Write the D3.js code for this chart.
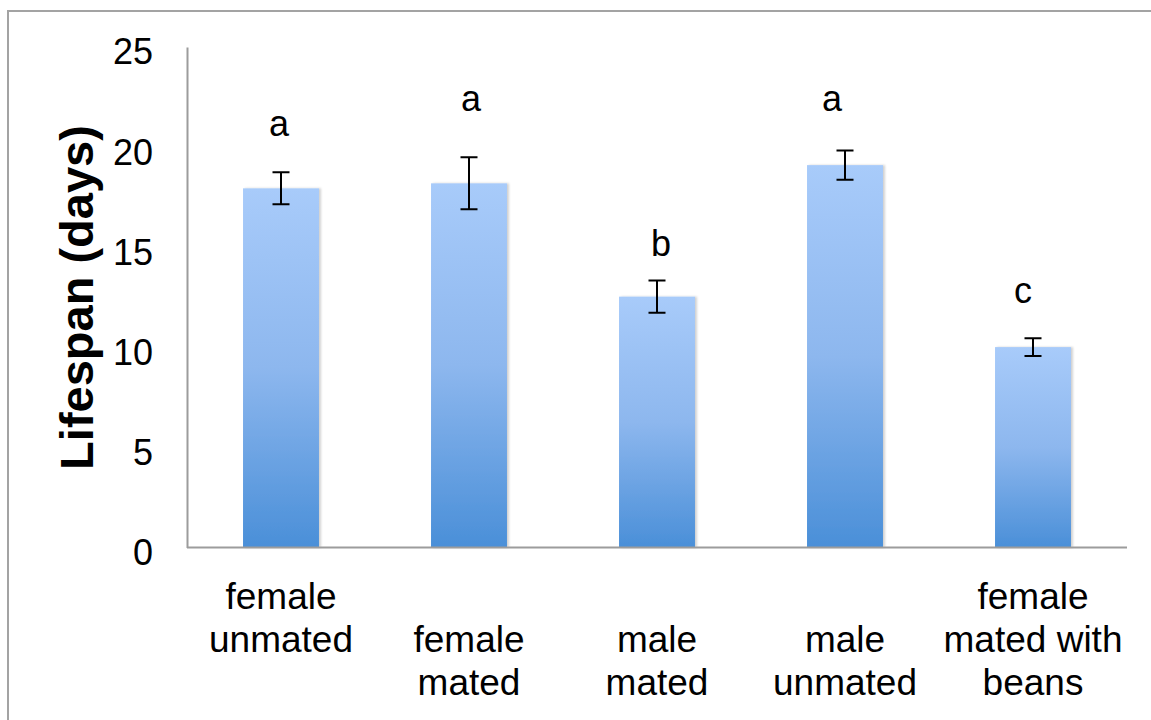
<!DOCTYPE html>
<html>
<head>
<meta charset="utf-8">
<script src="https://cdn.jsdelivr.net/npm/d3@7/dist/d3.min.js"></script>
<style>
  html, body { margin: 0; padding: 0; background: #ffffff; }
  svg { display: block; }
  text { font-family: "Liberation Sans", Arial, Helvetica, sans-serif; fill: #000; }
</style>
</head>
<body>
<svg id="chart" width="1151" height="720"></svg>
<script>
// ---- data ----
const categories = ["female\nunmated\n", "female\nmated", "male\nmated", "male\nunmated", "female\nmated with\nbeans"];
const lifespan = [17.94, 18.19, 12.53, 19.1, 10.01];
const errors = [0.8, 1.3, 0.81, 0.73, 0.44];
const groupLetters = ["a", "a", "b", "a", "c"];
const letterLevels = [20.53, 21.78, 14.57, 21.78, 12.23];
const yTicks = [0, 5, 10, 15, 20, 25];
const yTitle = "Lifespan (days)";

// ---- layout ----
const W = 1151, H = 720;
const plotLeft = 187, plotRight = 1127, plotTop = 47, plotBottom = 547.5;
const letterDx = [-2, 2, 4, -13, -10];

const svg = d3.select("#chart");

const defs = svg.append("defs");
const grad = defs.append("linearGradient")
  .attr("id", "barGrad").attr("x1", 0).attr("y1", 0).attr("x2", 0).attr("y2", 1);
grad.append("stop").attr("offset", "0%").attr("stop-color", "#a8cbfa");
grad.append("stop").attr("offset", "50%").attr("stop-color", "#8db7ee");
grad.append("stop").attr("offset", "100%").attr("stop-color", "#4a8fd8");
const shadow = defs.append("filter").attr("id", "shadow")
  .attr("x", "-10%").attr("y", "-10%").attr("width", "130%").attr("height", "120%");
shadow.append("feDropShadow").attr("dx", 2).attr("dy", 0).attr("stdDeviation", 1.2)
  .attr("flood-color", "#000").attr("flood-opacity", 0.18);

// outer frame (left and top edges visible)
svg.append("path")
  .attr("d", `M8,${H} L8,11 L${W},11`)
  .attr("fill", "none").attr("stroke", "#a3a3a3").attr("stroke-width", 2);

const x = d3.scaleBand().domain(categories).range([plotLeft, plotRight])
  .paddingInner(0.596).paddingOuter(0.298);
const y = d3.scaleLinear().domain([0, 25]).range([plotBottom, plotTop]);

// bars
svg.append("g").selectAll("rect").data(categories).join("rect")
  .attr("x", d => x(d))
  .attr("width", x.bandwidth())
  .attr("y", (d, i) => y(lifespan[i]))
  .attr("height", (d, i) => y(0) - y(lifespan[i]))
  .attr("fill", "url(#barGrad)")
  .attr("filter", "url(#shadow)");

// y axis
const yAxis = svg.append("g").attr("transform", `translate(${plotLeft},0)`)
  .call(d3.axisLeft(y).tickValues(yTicks).tickSize(0).tickPadding(34).tickFormat(d3.format("d")));
yAxis.select(".domain").attr("stroke", "#9c9c9c").attr("stroke-width", 2);
yAxis.selectAll("text")
  .style("font-family", "'Liberation Sans', Arial, sans-serif")
  .style("font-size", "36px").attr("fill", "#000").attr("dy", "0.47em");

// x axis
const xAxis = svg.append("g").attr("transform", `translate(0,${plotBottom})`)
  .call(d3.axisBottom(x).tickSize(0).tickFormat(""));
xAxis.select(".domain").attr("stroke", "#9c9c9c").attr("stroke-width", 2)
  .attr("d", `M${plotLeft},0H${plotRight}`);
xAxis.selectAll(".tick text").remove();
const lineH = 43, lastBaseline = 695 - plotBottom;
xAxis.selectAll(".tick").each(function(d) {
  const lines = d.split("\n");
  const t = d3.select(this).append("text")
    .attr("text-anchor", "middle")
    .style("font-family", "'Liberation Sans', Arial, sans-serif")
    .style("font-size", "37px").attr("fill", "#000");
  lines.forEach((ln, k) => {
    t.append("tspan").attr("x", 0)
      .attr("y", lastBaseline - (lines.length - 1 - k) * lineH)
      .text(ln);
  });
});

// error bars
const eb = svg.append("g").attr("stroke", "#000").attr("stroke-width", 2).attr("fill", "none");
categories.forEach((c, i) => {
  const cx = x(c) + x.bandwidth() / 2;
  const hi = y(lifespan[i] + errors[i]), lo = y(lifespan[i] - errors[i]);
  const cw = 8.5;
  eb.append("path").attr("d", `M${cx},${hi}V${lo}M${cx - cw},${hi}H${cx + cw}M${cx - cw},${lo}H${cx + cw}`);
});

// significance letters
svg.append("g").selectAll("text").data(groupLetters).join("text")
  .attr("x", (d, i) => x(categories[i]) + x.bandwidth() / 2 + letterDx[i])
  .attr("y", (d, i) => y(letterLevels[i]))
  .attr("text-anchor", "middle")
  .style("font-size", "36px")
  .text(d => d);

// y title
svg.append("text")
  .attr("transform", `translate(93,${(125 + 470) / 2}) rotate(-90)`)
  .attr("text-anchor", "middle")
  .style("font-size", "47px").style("font-weight", "bold")
  .text(yTitle);
</script>
</body>
</html>
